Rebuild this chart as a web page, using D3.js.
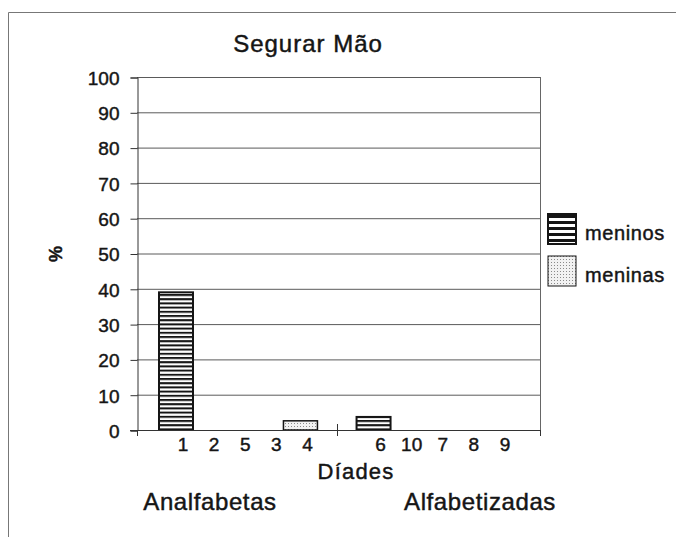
<!DOCTYPE html>
<html>
<head>
<meta charset="utf-8">
<script src="https://cdn.jsdelivr.net/npm/d3@7"></script>
<style>
  body { margin: 0; background: #fff; }
  svg { display: block; font-family: "Liberation Sans", Arial, sans-serif; }
  text { fill: #151515; stroke: #151515; stroke-width: 0.45px; }
</style>
</head>
<body>
<div id="chart"></div>
<script>
// data
var categories = ["1", "2", "5", "3", "4", "6", "10", "7", "8", "9"];
var meninos = [39, 0, 0, 0, 0, 3.7, 0, 0, 0, 0];
var meninas = [0, 0, 0, 0, 2.6, 0, 0, 0, 0, 0];
var yTicks = [0, 10, 20, 30, 40, 50, 60, 70, 80, 90, 100];
var seriesNames = ["meninos", "meninas"];
var groups = ["Analfabetas", "Alfabetizadas"];

var W = 676, H = 537;
var plot = {left: 137, right: 540, top: 77, bottom: 430};

var svg = d3.select("#chart").append("svg")
    .attr("width", W)
    .attr("height", H);

var defs = svg.append("defs");
// horizontal stripes for meninos
var p1 = defs.append("pattern")
    .attr("id", "stripes")
    .attr("patternUnits", "userSpaceOnUse")
    .attr("width", 8).attr("height", 4.2);
p1.append("rect").attr("width", 8).attr("height", 4.2).attr("fill", "#fff");
p1.append("rect").attr("width", 8).attr("height", 2).attr("fill", "#151515");

var p1b = defs.append("pattern")
    .attr("id", "stripesLegend")
    .attr("patternUnits", "userSpaceOnUse")
    .attr("width", 8).attr("height", 6)
    .attr("y", 1);
p1b.append("rect").attr("width", 8).attr("height", 6).attr("fill", "#fff");
p1b.append("rect").attr("width", 8).attr("height", 3).attr("fill", "#151515");

// fine dots for meninas
var p2 = defs.append("pattern")
    .attr("id", "dots")
    .attr("patternUnits", "userSpaceOnUse")
    .attr("width", 3).attr("height", 3);
p2.append("rect").attr("width", 3).attr("height", 3).attr("fill", "#f2f2f2");
p2.append("rect").attr("width", 1).attr("height", 1).attr("fill", "#8a8a8a");

// outer frame
svg.append("path")
    .attr("d", "M8.5," + H + " V12.5 H" + W)
    .attr("fill", "none")
    .attr("stroke", "#777")
    .attr("stroke-width", 1);

// scales
var y = d3.scaleLinear().domain([0, 100]).range([plot.bottom, plot.top]);
// index positions: 5 dyads per group with a wider gap between groups
var idx = categories.map(function(d, i) { return i < 5 ? i : i + 1.35; });
var x = d3.scaleLinear().domain([0, 10.35]).range([183, 505]);

// gridlines
svg.append("g")
  .selectAll("line")
  .data(yTicks.filter(function(d) { return d > 0; }))
  .join("line")
    .attr("x1", plot.left).attr("x2", plot.right)
    .attr("y1", function(d) { return y(d) + 0.5; })
    .attr("y2", function(d) { return y(d) + 0.5; })
    .attr("stroke", "#5a5a5a")
    .attr("stroke-width", 1);

// right border of plot area
svg.append("line")
    .attr("x1", plot.right + 0.5).attr("x2", plot.right + 0.5)
    .attr("y1", plot.top).attr("y2", plot.bottom + 6)
    .attr("stroke", "#666");

// y axis
var yAxis = svg.append("g")
    .attr("transform", "translate(" + (plot.left + 0.5) + ",0.5)")
    .call(d3.axisLeft(y).tickValues(yTicks).tickSize(7).tickPadding(11));
yAxis.select(".domain").attr("stroke", "#333");
yAxis.selectAll(".tick line").attr("stroke", "#333");
yAxis.selectAll("text")
    .attr("font-size", 19)
    .attr("dy", "0.36em")
    .attr("font-family", "Liberation Sans, Arial, sans-serif")
    .style("fill", "#151515");

// bars
var bw = 34, shift = -7;
svg.append("g")
  .selectAll("rect")
  .data(categories.map(function(c, i) { return {i: i, v: meninos[i]}; }).filter(function(d) { return d.v > 0; }))
  .join("rect")
    .attr("x", function(d) { return x(idx[d.i]) + shift - bw / 2; })
    .attr("y", function(d) { return y(d.v); })
    .attr("width", bw)
    .attr("height", function(d) { return y(0) - y(d.v); })
    .attr("fill", "url(#stripes)")
    .attr("stroke", "#151515")
    .attr("stroke-width", 2);

svg.append("g")
  .selectAll("rect")
  .data(categories.map(function(c, i) { return {i: i, v: meninas[i]}; }).filter(function(d) { return d.v > 0; }))
  .join("rect")
    .attr("x", function(d) { return x(idx[d.i]) + shift - bw / 2; })
    .attr("y", function(d) { return y(d.v); })
    .attr("width", bw)
    .attr("height", function(d) { return y(0) - y(d.v); })
    .attr("fill", "url(#dots)")
    .attr("stroke", "#151515")
    .attr("stroke-width", 1.5);

// x axis line with group separators
svg.append("line")
    .attr("x1", plot.left - 7).attr("x2", plot.right)
    .attr("y1", plot.bottom + 0.5).attr("y2", plot.bottom + 0.5)
    .attr("stroke", "#333");
var sepX = [plot.left, 337, plot.right];
svg.append("g")
  .selectAll("line")
  .data(sepX)
  .join("line")
    .attr("x1", function(d) { return d + 0.5; })
    .attr("x2", function(d) { return d + 0.5; })
    .attr("y1", function(d, i) { return i === 1 ? plot.bottom - 6 : plot.bottom; })
    .attr("y2", plot.bottom + 6)
    .attr("stroke", "#333");

// category labels
svg.append("g")
  .selectAll("text")
  .data(categories)
  .join("text")
    .attr("x", function(d, i) { return x(idx[i]); })
    .attr("y", 451)
    .attr("text-anchor", "middle")
    .attr("font-size", 19)
    .text(function(d) { return d; });

// axis titles
svg.append("text")
    .attr("x", 356).attr("y", 479)
    .attr("text-anchor", "middle")
    .attr("font-size", 22)
    .attr("letter-spacing", 1.2)
    .text("Díades");

var groupX = [210, 480];
svg.append("g")
  .selectAll("text")
  .data(groups)
  .join("text")
    .attr("x", function(d, i) { return groupX[i]; })
    .attr("y", 510)
    .attr("text-anchor", "middle")
    .attr("font-size", 24)
    .attr("letter-spacing", 0.6)
    .text(function(d) { return d; });

svg.append("text")
    .attr("transform", "translate(62,254) rotate(-90)")
    .attr("text-anchor", "middle")
    .attr("font-size", 18)
    .attr("font-weight", "bold")
    .text("%");

// title
svg.append("text")
    .attr("x", 308).attr("y", 52)
    .attr("text-anchor", "middle")
    .attr("font-size", 24)
    .attr("letter-spacing", 1)
    .text("Segurar Mão");

// legend
var legend = svg.append("g").attr("transform", "translate(548,214)");
var fills = ["url(#stripesLegend)", "url(#dots)"];
var li = legend.selectAll("g")
  .data(seriesNames)
  .join("g")
    .attr("transform", function(d, i) { return "translate(0," + i * 42 + ")"; });
li.append("rect")
    .attr("width", 28).attr("height", 30)
    .attr("fill", function(d, i) { return fills[i]; })
    .attr("stroke", "#151515")
    .attr("stroke-width", function(d, i) { return i === 0 ? 2 : 1; });
li.append("text")
    .attr("x", 37).attr("y", 26)
    .attr("font-size", 20)
    .attr("letter-spacing", 0.6)
    .text(function(d) { return d; });
</script>
</body>
</html>
